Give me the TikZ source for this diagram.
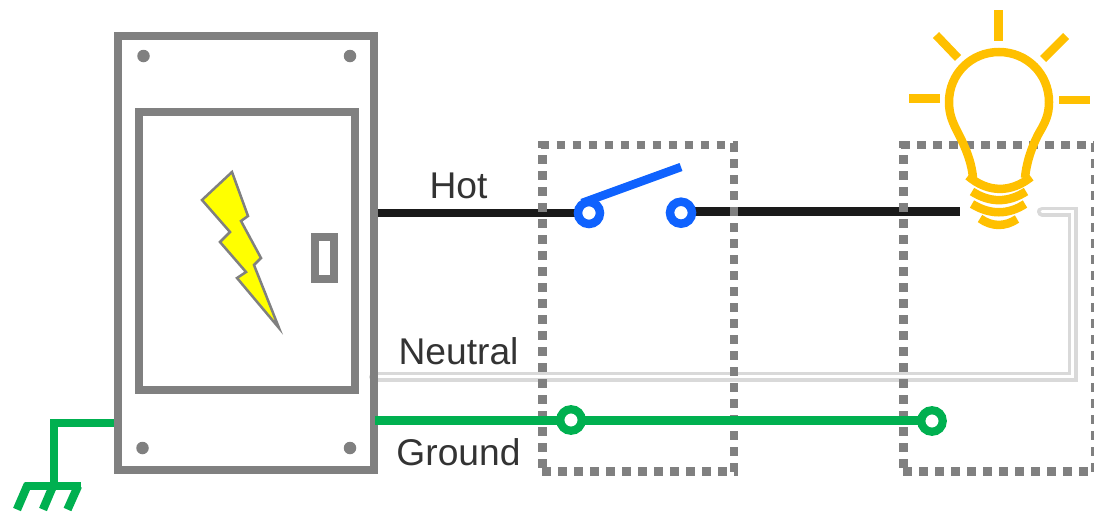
\documentclass[tikz,border=0pt]{standalone}
\usepackage{fontspec}
\setmainfont{Liberation Sans}
\definecolor{panelgray}{HTML}{808080}
\definecolor{hotblack}{HTML}{1A1A1A}
\definecolor{switchblue}{HTML}{0F62FE}
\definecolor{groundgreen}{HTML}{00B050}
\definecolor{bulbgold}{HTML}{FFC000}
\definecolor{neutralgray}{HTML}{D9D9D9}
\definecolor{labelgray}{HTML}{333333}
\definecolor{boltyellow}{HTML}{FFFF00}
\tikzset{
  panelbox/.style={draw=panelgray,line width=8.4pt,minimum width=#1,inner sep=0pt,outer sep=0pt},
  screw/.style={circle,fill=panelgray,minimum size=12.5pt,inner sep=0pt,outer sep=0pt},
  dotside/.style={draw=panelgray,line width=8.6pt,dash pattern=on 8.6pt off 7.4pt},
  hotwire/.style={draw=hotblack,line width=8.6pt},
  greenwire/.style={draw=groundgreen,line width=8.4pt},
  earthwire/.style={draw=groundgreen,line width=8.4pt},
  terminalblue/.style={circle,draw=switchblue,fill=white,line width=8.5pt,minimum size=22pt,inner sep=0pt,outer sep=0pt},
  terminalgreen/.style={circle,draw=groundgreen,fill=white,line width=8.2pt,minimum size=21.5pt,inner sep=0pt,outer sep=0pt},
  glow/.style={draw=bulbgold,line width=8.5pt},
  wirelabel/.style={text=labelgray,font=\fontsize{37.2}{40}\selectfont,anchor=base,inner sep=0pt},
}
\begin{document}
\begin{tikzpicture}[x=1pt,y=-1pt]
\useasboundingbox (0,0) rectangle (1094,512);
% anchors
\coordinate (hotstart) at (378,213);
\coordinate (lampin) at (960,211.5);
\coordinate (neutralend) at (1042,211.5);
\coordinate (neutralcorner) at (1072.7,211.5);
\coordinate (neutralstart) at (374,376.7);
\coordinate (greenstart) at (375,420.5);
\coordinate (earthstart) at (114,423);
\coordinate (earthtop) at (54,423);
\coordinate (earthbase) at (54,486);
% neutral wire
\path[draw=neutralgray,line width=10pt,line cap=round] (neutralend) -- (neutralcorner) |- (neutralstart);
\path[draw=white,line width=3pt,line cap=round] (neutralend) -- (neutralcorner) |- (neutralstart);
% panel
\node[panelbox=256pt,minimum height=434pt] (panel) at (246,253) {};
\node[panelbox=216pt,minimum height=278pt] (door) at (247,251) {};
\node[panelbox=19pt,minimum height=42pt] (handle) at (324.5,258) {};
\node[screw] (s1) at (143.5,56) {};
\node[screw] (s2) at (350,56) {};
\node[screw] (s3) at (142.5,448) {};
\node[screw] (s4) at (350,448) {};
% bolt
\draw[draw=panelgray,fill=boltyellow,line width=2.5pt,line join=miter]
  (232,172) -- (202,200) -- (230,232) -- (220,242) -- (246,272) -- (237,278)
  -- (279,328) -- (254,265) -- (261,258) -- (241,221) -- (248,216) -- cycle;
% black wires
\node[terminalblue,draw=none,fill=none] (swa) at (589,213) {};
\node[terminalblue,draw=none,fill=none] (swb) at (681,212.7) {};
\draw[hotwire] (hotstart) -- (swa.center);
\draw[hotwire] (swb.center |- lampin) -- (lampin);
% dotted boxes
\draw[dotside] (540.7,145) -- (738,145);
\draw[dotside] (734,143.3) -- (734,476);
\draw[dotside,dash phase=1.7pt] (542.3,141) -- (542.3,468);
\draw[dotside] (542,471.7) -- (738,471.7);
\draw[dotside] (901.3,145) -- (1094,145);
\draw[dotside,dash phase=1.7pt] (903.3,141) -- (903.3,468);
\draw[dotside] (903.3,471.7) -- (1094,471.7);
\draw[dotside] (1095.7,143.3) -- (1095.7,476);
% ground wires
\node[terminalgreen,draw=none,fill=none] (ga) at (571,420) {};
\node[terminalgreen,draw=none,fill=none] (gb) at (932,421) {};
\draw[greenwire] (greenstart) -- (gb.center |- greenstart);
\node[terminalgreen] at (ga) {};
\node[terminalgreen] at (gb) {};
\draw[earthwire] (earthstart) -- (earthtop) -- (earthbase);
\draw[earthwire] (25,486) -- (81,486);
\draw[earthwire] (28,484) -- (17,509.5);
\draw[earthwire] (53,486) -- (43,509.5);
\draw[earthwire] (78,486) -- (67.5,509.5);
% switch
\draw[draw=switchblue,line width=8.5pt] (582,203) -- (681,167);
\node[terminalblue] at (swa) {};
\node[terminalblue] at (swb) {};
% bulb
\draw[glow] (998.5,10) -- (998.5,41);
\draw[glow] (909,98.5) -- (940,98.5);
\draw[glow] (1059,100) -- (1090,100);
\draw[glow] (936,35) -- (958,58);
\draw[glow] (1066,36) -- (1043,59);
\draw[glow] (973,178) .. controls (972,166) and (968,152) .. (958,133)
  .. controls (953,123) and (949,115) .. (949,102)
  .. controls (949,74) and (971,52) .. (999,52)
  .. controls (1027,52) and (1049,74) .. (1049,102)
  .. controls (1049,115) and (1045,123) .. (1039,133)
  .. controls (1030,150) and (1026,166) .. (1025,178);
\draw[glow] (968,176) .. controls (988,193) and (1011,193) .. (1031,177);
\draw[glow] (972,191.5) .. controls (990,203) and (1008,203) .. (1026,191.5);
\draw[glow] (972,204) .. controls (990,215) and (1008,215) .. (1025,204);
\draw[glow] (980,218.5) .. controls (992,227) and (1005,227) .. (1017,219);
% labels
\node[wirelabel] (hot) at (458.5,198) {Hot};
\node[wirelabel] (neutral) at (458.5,364) {Neutral};
\node[wirelabel] (ground) at (458.5,465) {Ground};
\end{tikzpicture}
\end{document}
